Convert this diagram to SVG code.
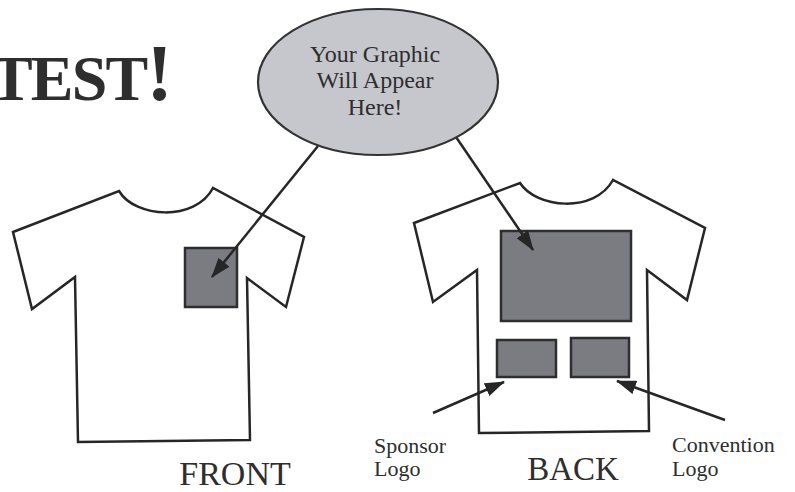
<svg xmlns="http://www.w3.org/2000/svg" width="795" height="492" viewBox="0 0 795 492">
  <style>
    .shirt { fill: #ffffff; stroke: #262626; stroke-width: 2.5; stroke-linejoin: miter; }
    .patch { fill: #7b7b82; stroke: #2e2e2e; stroke-width: 2.5; }
    .conn { stroke: #262626; stroke-width: 2.5; fill: none; marker-end: url(#ah); }
    .serif { font-family: "Liberation Serif", "Times New Roman", serif; fill: #2e2e2e; }
    .bubble { fill: #c6c7cd; stroke: #333333; stroke-width: 2.2; }
  </style>
  <defs>
    <marker id="ah" viewBox="0 0 20 14" refX="19" refY="7" markerWidth="20" markerHeight="14" markerUnits="userSpaceOnUse" orient="auto">
      <path d="M0,0 L20,7 L0,14 Z" fill="#262626"/>
    </marker>
  </defs>
  <rect width="795" height="492" fill="#ffffff"/>

  <g id="title">
    <text class="serif" x="-10" y="100" font-size="64" font-weight="bold" textLength="183" fill="#333333">TEST<tspan font-size="80">!</tspan></text>
  </g>

  <g id="front-shirt">
    <path class="shirt" d="M13,232 L119,191 C135,218 195,222 213,188 L304,237 L286,307 L247,278 L250,440 L78,442 L75,277 L32,309 Z"/>
    <rect id="front-pocket" class="patch" x="185" y="248" width="52" height="59"/>
    <text class="serif" x="235" y="485" font-size="34" text-anchor="middle">FRONT</text>
  </g>

  <g id="back-shirt">
    <path class="shirt" d="M414,223 L520,183 C536,208 594,214 613,180 L705,228 L687,300 L647,270 L649,431 L479,433 L477,270 L433,302 Z"/>
    <rect id="back-main" class="patch" x="501" y="231" width="130" height="90"/>
    <rect id="back-sponsor" class="patch" x="497" y="340" width="59" height="37"/>
    <rect id="back-convention" class="patch" x="571" y="338" width="58" height="39"/>
    <text class="serif" x="573" y="480" font-size="33" text-anchor="middle">BACK</text>
  </g>

  <g id="sponsor-label">
    <text class="serif" x="374" y="453" font-size="22">Sponsor</text>
    <text class="serif" x="374" y="476" font-size="22">Logo</text>
  </g>

  <g id="convention-label">
    <text class="serif" x="672" y="452" font-size="22">Convention</text>
    <text class="serif" x="672" y="476" font-size="22">Logo</text>
  </g>

  <g id="connectors">
    <line class="conn" x1="318" y1="146" x2="212" y2="277"/>
    <line class="conn" x1="456" y1="137" x2="533" y2="250"/>
    <line class="conn" x1="433" y1="413" x2="504" y2="382"/>
    <line class="conn" x1="725" y1="420" x2="617" y2="381"/>
  </g>

  <g id="graphic-bubble">
    <ellipse class="bubble" cx="378" cy="82" rx="120" ry="73"/>
    <text class="serif" x="375" y="62" font-size="24" text-anchor="middle">Your Graphic</text>
    <text class="serif" x="375" y="88" font-size="24" text-anchor="middle">Will Appear</text>
    <text class="serif" x="375" y="115" font-size="24" text-anchor="middle">Here!</text>
  </g>
</svg>
